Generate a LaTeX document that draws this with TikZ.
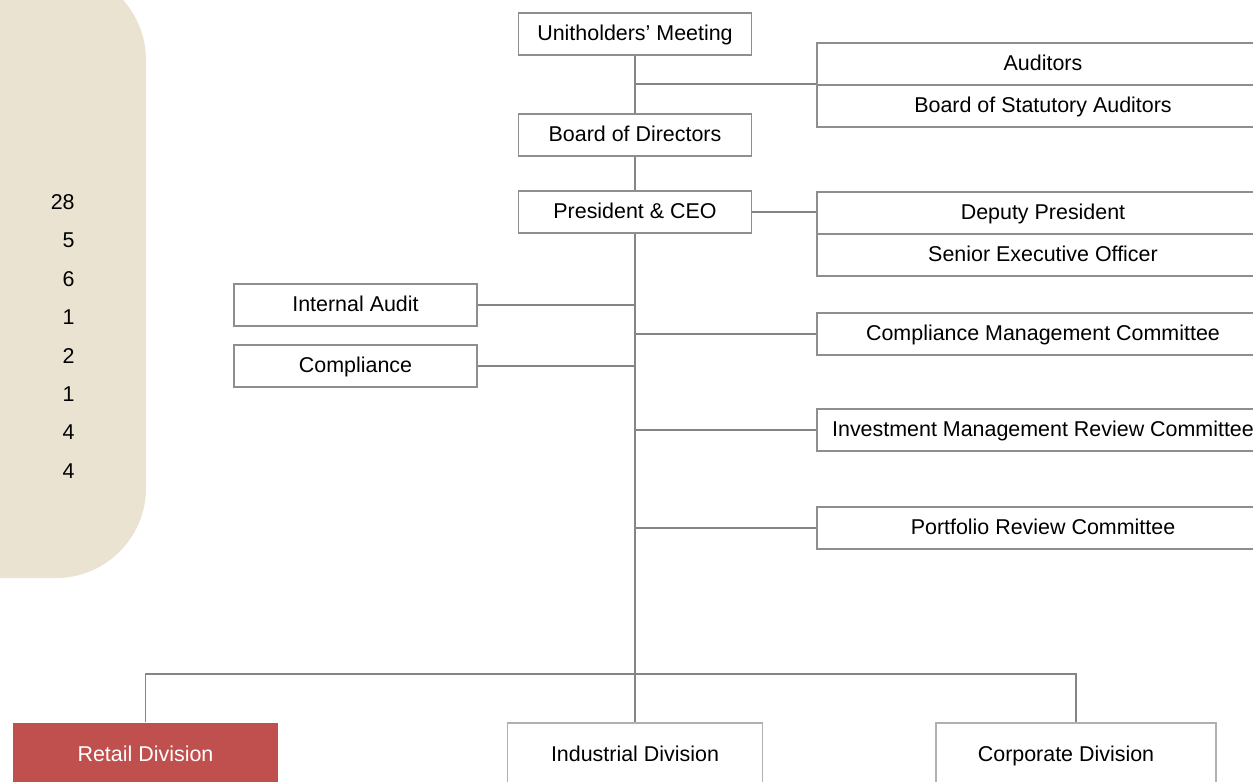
\documentclass[tikz,border=0pt]{standalone}
\usepackage{fontspec}
\setmainfont{Liberation Sans}
\usepackage{tikz}
\usetikzlibrary{positioning,calc}
\definecolor{panelfill}{HTML}{EAE3D2}
\definecolor{boxline}{HTML}{8E8E8E}
\definecolor{linkc}{HTML}{858585}
\definecolor{retailfill}{HTML}{C0504D}
\tikzset{
  orgbox/.style={draw=boxline, line width=0.8pt, fill=white, minimum width=#1, minimum height=0.84cm,
               inner sep=0pt, text height=0.716em, text depth=0pt, font=\fontsize{12.2}{14}\selectfont},
  sidebox/.style={orgbox=9.04cm},
  divbox/.style={orgbox=#1, minimum height=1.28cm, draw=boxline!70},
  retailbox/.style={divbox=#1, draw=none, fill=retailfill, text=white},
  numtext/.style={font=\fontsize{12.2}{14}\selectfont, anchor=east, inner sep=0pt},
  link/.style={draw=linkc, line width=1.1pt},
}
% column centres and bus level (px)
\def\xT{635}
\def\xR{1043}
\def\yBus{674}
\begin{document}
\begin{tikzpicture}[x=0.02cm, y=-0.02cm]
  \useasboundingbox (0,0) rectangle (1253,781);
  \clip (0,0) rectangle (1253,781);
  % left panel
  \fill[panelfill, rounded corners=1.8cm] (-100,-30) rectangle (146,578);
  \foreach \n [count=\i] in {28,5,6,1,2,1,4,4}
    \node[numtext] (num\i) at (75,{202+38.4*(\i-1)}) {\n};
  % main chain
  \node[orgbox=4.66cm] (uhm) at (\xT,34) {Unitholders' Meeting};
  \node[orgbox=4.66cm] (bod) at (\xT,135) {Board of Directors};
  \node[orgbox=4.66cm] (ceo) at (\xT,212) {President \& CEO};
  % right hand boxes
  \node[sidebox] (aud) at (\xR,64) {Auditors};
  \node[sidebox] (bsa) at (\xR,106) {Board of Statutory Auditors};
  \node[sidebox] (dep) at (\xR,213) {Deputy President};
  \node[sidebox] (seo) at (\xR,255) {Senior Executive Officer};
  \node[sidebox] (cmc) at (\xR,334) {Compliance Management Committee};
  \node[sidebox] (imrc) at (\xR,430) {Investment Management Review Committee};
  \node[sidebox] (prc) at (\xR,528) {Portfolio Review Committee};
  % left hand boxes
  \node[orgbox=4.86cm] (ia) at (355.5,305) {Internal Audit};
  \node[orgbox=4.86cm] (comp) at (355.5,366) {Compliance};
  % divisions
  \node[retailbox=5.3cm] (retail) at (145.5,755) {Retail Division};
  \node[divbox=5.1cm] (ind) at (\xT,755) {Industrial Division};
  \node[divbox=5.6cm] (corp) at (1076,755) {\hspace*{-0.4cm}Corporate Division};
  \coordinate (bus) at (\xT,\yBus);
  \coordinate (j1) at (uhm.south |- bsa.north);
  % connectors
  \draw[link] (uhm) -- (bod);
  \draw[link] (bod) -- (ceo);
  \draw[link] (ceo.south) -- (bus);
  \draw[link] (j1) -- (bsa.north west);
  \draw[link] (ceo.east) -- (ceo.east -| dep.west);
  \draw[link] (ia.east) -- (ia.east -| bus);
  \draw[link] (comp.east) -- (comp.east -| bus);
  \draw[link] (cmc.west -| bus) -- (cmc.west);
  \draw[link] (imrc.west -| bus) -- (imrc.west);
  \draw[link] (prc.west -| bus) -- (prc.west);
  \draw[link] (retail.north) |- (bus) -| (corp.north);
  \draw[link] (bus) -- (ind.north);
\end{tikzpicture}
\end{document}
